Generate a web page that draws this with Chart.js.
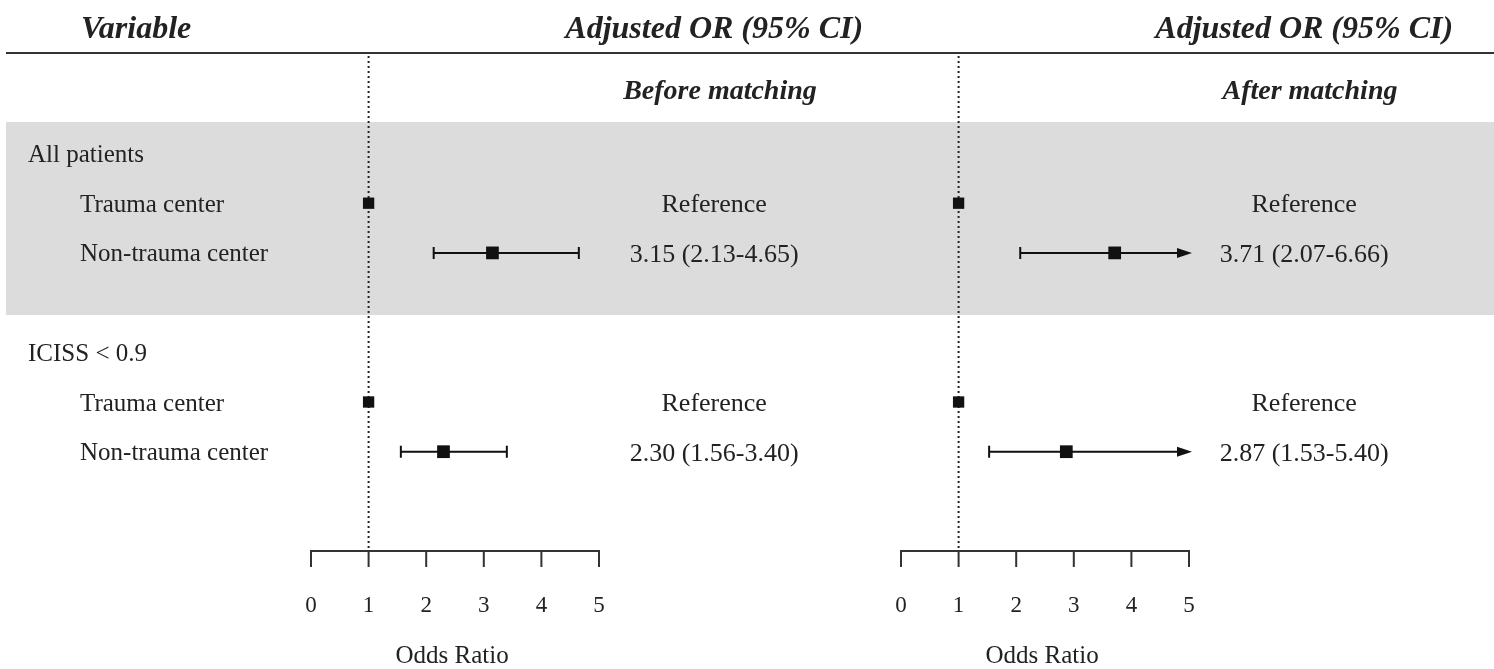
<!DOCTYPE html>
<html>
<head>
<meta charset="utf-8">
<script src="https://cdn.jsdelivr.net/npm/chart.js@4.4.1/dist/chart.umd.min.js"></script>
<style>
  html, body { margin: 0; padding: 0; background: #fff; }
  #forest { display: block; }
</style>
</head>
<body>
<canvas id="forest" width="1494" height="669"></canvas>
<script>
/* =====================================================
   DATA
===================================================== */
const rowLabels = ["All patients", "Trauma center", "Non-trauma center", "", "ICISS < 0.9", "Trauma center", "Non-trauma center"];
const rowIndent = [0, 1, 1, 0, 0, 1, 1];
const pointRows = [1, 2, 5, 6];

const beforeOR = [1, 3.15, 1, 2.30];
const beforeLow = [null, 2.13, null, 1.56];
const beforeHigh = [null, 4.65, null, 3.40];

const afterOR = [1, 3.71, 1, 2.87];
const afterLow = [null, 2.07, null, 1.53];
const afterHigh = [null, 6.66, null, 5.40];

const tickValues = [0, 1, 2, 3, 4, 5];
const panelTitles = ["Before matching", "After matching"];

/* =====================================================
   HELPERS
===================================================== */
const SERIF = '"Liberation Serif", "DejaVu Serif", serif';
const INK = "#222";
const PX_PER_UNIT = 57.6;
const ROW_PX = 49.7;
const TEXT_NUDGE = 2; // "middle" baseline sits a little high for this font

function estimateText(or, lo, hi) {
  if (lo === null) return "Reference";
  return or.toFixed(2) + " (" + lo.toFixed(2) + "-" + hi.toFixed(2) + ")";
}

function toPoints(values) {
  return values.map((v, i) => ({ x: v, y: pointRows[i] }));
}

/* =====================================================
   PLUGIN: table text, band, axes, CI bars
===================================================== */
const forestPlugin = {
  id: "forest",
  beforeDatasetsDraw(chart) {
    const ctx = chart.ctx;
    const y = chart.scales.y;
    const W = chart.width;

    ctx.save();

    // grey band behind "All patients"
    ctx.fillStyle = "#dcdcdc";
    ctx.fillRect(6, 122, W - 6, 193);

    // header rule
    ctx.strokeStyle = "#333";
    ctx.lineWidth = 2;
    ctx.beginPath();
    ctx.moveTo(6, 53);
    ctx.lineTo(W, 53);
    ctx.stroke();

    // headers
    ctx.fillStyle = INK;
    ctx.textBaseline = "middle";
    ctx.font = "italic bold 32px " + SERIF;
    ctx.textAlign = "left";
    ctx.fillText("Variable", 81, 30);

    const panels = [
      { scale: chart.scales.xL, or: beforeOR, lo: beforeLow, hi: beforeHigh },
      { scale: chart.scales.xR, or: afterOR, lo: afterLow, hi: afterHigh }
    ];

    panels.forEach((p, k) => {
      const s = p.scale;
      const textX = s.getPixelForValue(7);
      ctx.fillStyle = INK;
      ctx.textAlign = "center";
      ctx.font = "italic bold 32px " + SERIF;
      ctx.fillText("Adjusted OR (95% CI)", textX, 30);
      ctx.font = "italic bold 28px " + SERIF;
      ctx.fillText(panelTitles[k], s.getPixelForValue(7.1), 92);

      // estimates text
      ctx.font = "26px " + SERIF;
      p.or.forEach((v, i) => {
        ctx.fillText(estimateText(v, p.lo[i], p.hi[i]), textX, y.getPixelForValue(pointRows[i]) + TEXT_NUDGE);
      });

      // dotted reference line at OR = 1
      const x1 = s.getPixelForValue(1);
      ctx.strokeStyle = "#222";
      ctx.lineWidth = 2;
      ctx.setLineDash([2, 3]);
      ctx.beginPath();
      ctx.moveTo(x1, 56);
      ctx.lineTo(x1, 550);
      ctx.stroke();
      ctx.setLineDash([]);

      // x axis
      const x0 = s.getPixelForValue(tickValues[0]);
      const xN = s.getPixelForValue(tickValues[tickValues.length - 1]);
      ctx.strokeStyle = "#333";
      ctx.lineWidth = 2;
      ctx.beginPath();
      ctx.moveTo(x0, 551);
      ctx.lineTo(xN, 551);
      tickValues.forEach(t => {
        const tx = s.getPixelForValue(t);
        ctx.moveTo(tx, 550);
        ctx.lineTo(tx, 567);
      });
      ctx.stroke();
      ctx.font = "23px " + SERIF;
      tickValues.forEach(t => {
        ctx.fillText(String(t), s.getPixelForValue(t), 606);
      });
      ctx.font = "25px " + SERIF;
      ctx.fillText("Odds Ratio", s.getPixelForValue(2.45), 656);

      // confidence intervals
      const maxV = tickValues[tickValues.length - 1];
      ctx.strokeStyle = "#111";
      ctx.fillStyle = "#111";
      ctx.lineWidth = 2;
      p.or.forEach((v, i) => {
        if (p.lo[i] === null) return;
        const py = y.getPixelForValue(pointRows[i]);
        const lx = s.getPixelForValue(p.lo[i]);
        const clipped = p.hi[i] > maxV;
        const hx = s.getPixelForValue(clipped ? maxV : p.hi[i]);
        ctx.beginPath();
        ctx.moveTo(lx, py);
        ctx.lineTo(clipped ? hx - 10 : hx, py);
        ctx.moveTo(lx, py - 6);
        ctx.lineTo(lx, py + 6);
        if (!clipped) {
          ctx.moveTo(hx, py - 6);
          ctx.lineTo(hx, py + 6);
        }
        ctx.stroke();
        if (clipped) {
          ctx.beginPath();
          ctx.moveTo(hx + 3, py);
          ctx.lineTo(hx - 12, py - 5);
          ctx.lineTo(hx - 12, py + 5);
          ctx.closePath();
          ctx.fill();
        }
      });
    });

    // row labels
    ctx.fillStyle = INK;
    ctx.textAlign = "left";
    ctx.font = "25px " + SERIF;
    rowLabels.forEach((lab, r) => {
      if (!lab) return;
      ctx.fillText(lab, rowIndent[r] ? 80 : 28, y.getPixelForValue(r) + TEXT_NUDGE);
    });

    ctx.restore();
  }
};

/* =====================================================
   CHART
===================================================== */
const W = 1494, H = 669;
const xLMin = -311 / PX_PER_UNIT;
const xRMin = -901 / PX_PER_UNIT;
const yMin = -153.5 / ROW_PX;

function squareSizes(lows) {
  return lows.map(l => (l === null ? 8 : 9));
}

new Chart(document.getElementById("forest"), {
  type: "scatter",
  data: {
    datasets: [
      {
        label: "Before matching",
        data: toPoints(beforeOR),
        xAxisID: "xL",
        yAxisID: "y",
        pointStyle: "rect",
        pointRadius: squareSizes(beforeLow),
        backgroundColor: "#111",
        borderColor: "#111",
        borderWidth: 0
      },
      {
        label: "After matching",
        data: toPoints(afterOR),
        xAxisID: "xR",
        yAxisID: "y",
        pointStyle: "rect",
        pointRadius: squareSizes(afterLow),
        backgroundColor: "#111",
        borderColor: "#111",
        borderWidth: 0
      }
    ]
  },
  options: {
    responsive: false,
    animation: false,
    devicePixelRatio: 1,
    layout: { padding: 0, autoPadding: false },
    plugins: {
      legend: { display: false },
      tooltip: { enabled: false }
    },
    scales: {
      xL: { type: "linear", display: false, min: xLMin, max: xLMin + W / PX_PER_UNIT },
      xR: { type: "linear", display: false, min: xRMin, max: xRMin + W / PX_PER_UNIT },
      y: { type: "linear", display: false, reverse: true, min: yMin, max: yMin + H / ROW_PX }
    }
  },
  plugins: [forestPlugin]
});
</script>
</body>
</html>
